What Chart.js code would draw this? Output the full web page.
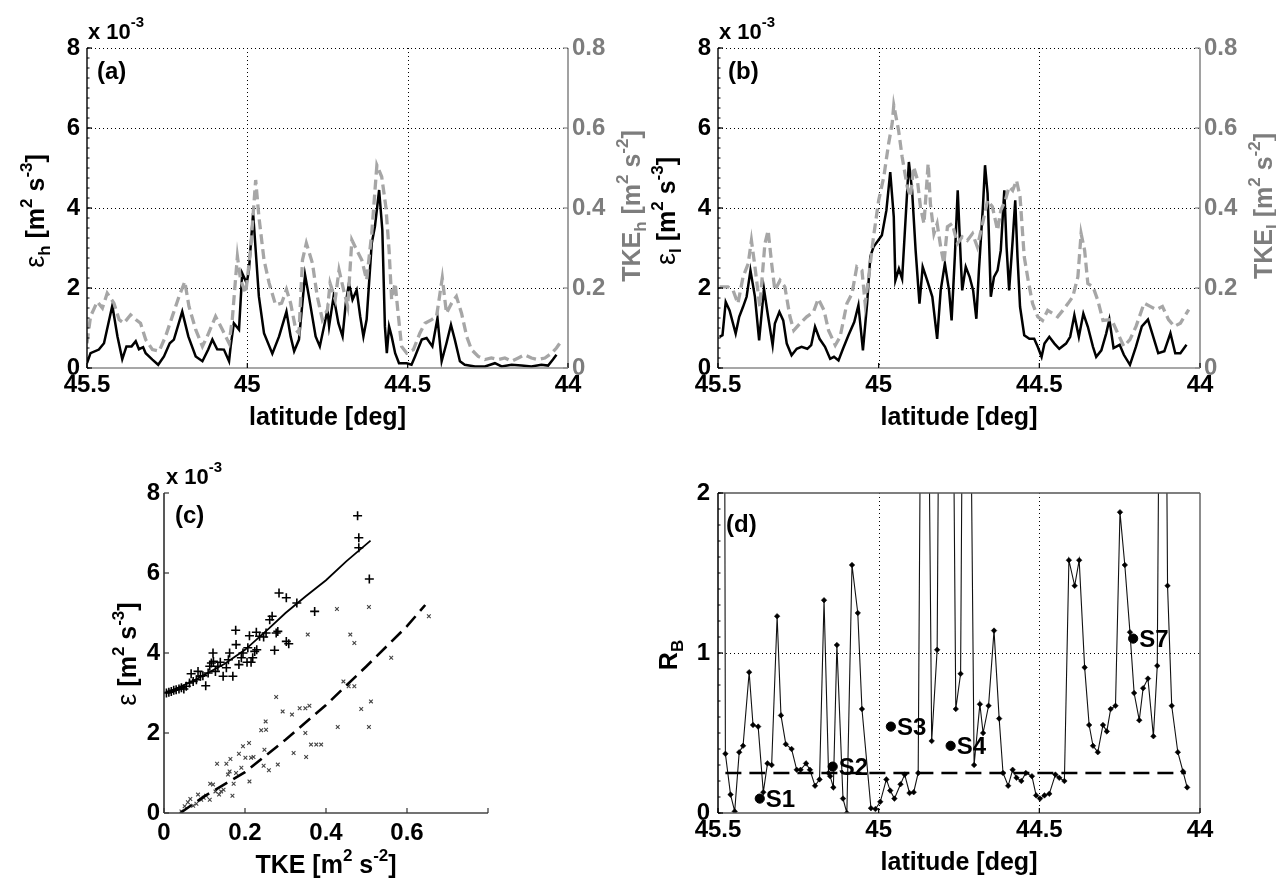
<!DOCTYPE html>
<html>
<head>
<meta charset="utf-8">
<title>Dissipation and TKE along the transect</title>
<script src="https://cdn.jsdelivr.net/npm/chart.js@4.4.1/dist/chart.umd.min.js"></script>
<style>
  html, body { margin: 0; padding: 0; background: #fff; }
  #wrap { position: relative; width: 1276px; height: 882px; overflow: hidden; background: #fff; }
  #wrap canvas { position: absolute; left: 0; top: 0; }
</style>
</head>
<body>
<div id="wrap">
  <canvas id="cA" width="1276" height="882"></canvas>
  <canvas id="cB" width="1276" height="882"></canvas>
  <canvas id="cC" width="1276" height="882"></canvas>
  <canvas id="cD" width="1276" height="882"></canvas>
</div>
<script>
// ---------------- data ----------------
// (a) horizontal dissipation eps_h (units of 1e-3 m^2 s^-3) and TKE_h (m^2 s^-2)
const latEpsH = [
  45.500,45.489,45.463,45.447,45.421,45.405,45.390,45.377,45.361,45.348,
  45.338,45.325,45.317,45.296,45.278,45.260,45.242,45.229,45.203,45.184,
  45.161,45.140,45.122,45.109,45.094,45.073,45.057,45.052,45.042,45.026,
  45.016,45.002,44.995,44.982,44.974,44.964,44.948,44.922,44.901,44.878,
  44.865,44.854,44.839,44.820,44.808,44.787,44.774,44.750,44.745,44.731,
  44.716,44.703,44.693,44.683,44.672,44.659,44.648,44.638,44.628,44.612,
  44.602,44.589,44.579,44.571,44.565,44.558,44.550,44.539,44.527,44.503,
  44.488,44.477,44.456,44.441,44.423,44.407,44.394,44.379,44.365,44.353,
  44.337,44.322,44.290,44.259,44.228,44.207,44.176,44.145,44.114,44.083,
  44.062,44.047,44.036
];
const epsH = [
  0.12,0.37,0.46,0.62,1.56,0.79,0.22,0.54,0.54,0.67,
  0.47,0.52,0.37,0.21,0.08,0.29,0.62,0.71,1.41,0.79,
  0.29,0.17,0.46,0.71,0.47,0.46,0.17,0.54,1.12,0.96,
  2.37,2.12,2.45,3.87,2.95,1.79,0.87,0.36,0.79,1.41,
  0.79,0.42,0.71,2.33,1.79,0.79,0.54,1.45,1.04,1.79,
  1.12,0.79,1.62,2.12,1.71,1.95,1.29,0.79,1.21,3.12,
  3.54,4.45,3.45,1.04,0.37,1.04,0.79,0.37,0.12,0.12,
  0.08,0.29,0.71,0.75,0.54,1.25,0.17,0.62,1.08,0.71,
  0.17,0.08,0.04,0.04,0.12,0.04,0.08,0.06,0.04,0.08,
  0.06,0.21,0.33
];
const latTkeH = [
  45.500,45.489,45.468,45.452,45.437,45.416,45.400,45.385,45.364,45.348,
  45.333,45.317,45.296,45.275,45.255,45.234,45.213,45.195,45.182,45.161,
  45.140,45.125,45.099,45.078,45.057,45.047,45.031,45.021,45.005,44.990,
  44.974,44.964,44.948,44.932,44.912,44.893,44.878,44.865,44.849,44.839,
  44.828,44.816,44.797,44.782,44.766,44.750,44.742,44.726,44.714,44.700,
  44.687,44.674,44.659,44.643,44.628,44.612,44.596,44.581,44.568,44.558,
  44.550,44.539,44.531,44.519,44.503,44.482,44.462,44.446,44.425,44.410,
  44.392,44.379,44.363,44.348,44.332,44.316,44.301,44.280,44.259,44.239,
  44.218,44.197,44.176,44.155,44.135,44.114,44.093,44.072,44.051,44.036,
  44.021
];
const tkeH = [
  0.062,0.129,0.166,0.150,0.187,0.162,0.121,0.112,0.133,0.121,
  0.112,0.071,0.046,0.042,0.079,0.129,0.179,0.216,0.154,0.096,
  0.054,0.079,0.129,0.096,0.062,0.121,0.279,0.220,0.187,0.295,
  0.470,0.379,0.270,0.212,0.158,0.162,0.196,0.162,0.096,0.087,
  0.270,0.312,0.262,0.179,0.121,0.146,0.212,0.171,0.245,0.196,
  0.154,0.320,0.295,0.270,0.220,0.337,0.507,0.478,0.403,0.295,
  0.171,0.212,0.146,0.054,0.037,0.046,0.087,0.112,0.121,0.129,
  0.225,0.137,0.162,0.179,0.137,0.079,0.046,0.029,0.021,0.025,
  0.021,0.025,0.017,0.025,0.033,0.025,0.021,0.025,0.037,0.050,
  0.067
];

// (b) eps_l (units of 1e-3 m^2 s^-3) and TKE_l (m^2 s^-2)
const latEpsL = [
  45.495,45.486,45.476,45.464,45.445,45.434,45.422,45.411,45.399,45.385,
  45.372,45.357,45.344,45.330,45.323,45.309,45.297,45.286,45.271,45.255,
  45.240,45.222,45.210,45.198,45.184,45.167,45.151,45.139,45.125,45.111,
  45.094,45.076,45.063,45.049,45.036,45.026,45.016,45.005,44.990,44.976,
  44.964,44.953,44.948,44.937,44.927,44.906,44.896,44.885,44.873,44.863,
  44.849,44.833,44.818,44.807,44.794,44.781,44.773,44.763,44.754,44.745,
  44.740,44.729,44.717,44.706,44.696,44.688,44.675,44.669,44.661,44.651,
  44.641,44.630,44.620,44.609,44.602,44.594,44.583,44.575,44.568,44.560,
  44.547,44.531,44.516,44.505,44.493,44.484,44.469,44.453,44.438,44.417,
  44.404,44.391,44.377,44.363,44.349,44.333,44.323,44.307,44.292,44.282,
  44.269,44.250,44.237,44.218,44.199,44.181,44.162,44.149,44.130,44.111,
  44.092,44.077,44.061,44.042
];
const epsL = [
  0.78,0.82,1.65,1.44,0.86,1.28,1.53,1.78,2.44,1.78,
  0.69,1.98,1.28,0.57,1.11,1.40,1.19,0.61,0.32,0.48,
  0.53,0.48,0.57,1.03,0.73,0.53,0.23,0.28,0.19,0.48,
  0.82,1.15,1.57,0.44,1.61,2.78,3.03,3.15,3.32,3.94,
  4.90,3.78,2.19,2.48,2.23,5.15,4.44,2.94,1.61,2.53,
  2.19,1.78,0.73,1.94,2.61,1.94,1.19,2.78,4.44,2.78,
  1.94,2.53,2.28,1.94,1.23,2.44,4.11,5.07,4.36,1.78,
  2.28,2.44,2.94,4.44,3.03,1.94,3.19,4.19,2.78,1.53,
  0.82,0.73,0.73,0.53,0.28,0.61,0.78,0.61,0.48,0.61,
  0.78,1.32,0.78,1.36,1.03,0.53,0.28,0.44,0.86,1.21,
  0.50,0.58,0.33,0.08,0.54,1.04,1.21,0.87,0.37,0.42,
  0.87,0.37,0.37,0.58
];
const latTkeL = [
  45.495,45.469,45.453,45.438,45.422,45.406,45.396,45.385,45.370,45.354,
  45.344,45.333,45.323,45.307,45.292,45.276,45.264,45.245,45.224,45.203,
  45.188,45.170,45.156,45.135,45.120,45.099,45.083,45.068,45.052,45.042,
  45.031,45.016,45.000,44.984,44.969,44.958,44.953,44.938,44.927,44.911,
  44.901,44.891,44.880,44.870,44.859,44.846,44.839,44.828,44.818,44.807,
  44.797,44.786,44.771,44.755,44.740,44.724,44.708,44.693,44.679,44.661,
  44.646,44.630,44.620,44.606,44.594,44.583,44.571,44.560,44.547,44.533,
  44.521,44.505,44.490,44.474,44.458,44.443,44.427,44.411,44.396,44.380,
  44.370,44.359,44.349,44.333,44.318,44.302,44.275,44.256,44.237,44.218,
  44.199,44.174,44.155,44.136,44.117,44.098,44.080,44.061,44.035
];
const tkeL = [
  0.203,0.203,0.194,0.161,0.228,0.261,0.319,0.253,0.153,0.311,
  0.344,0.261,0.194,0.219,0.203,0.128,0.094,0.111,0.128,0.140,
  0.173,0.144,0.094,0.057,0.078,0.161,0.186,0.253,0.244,0.161,
  0.228,0.328,0.419,0.478,0.561,0.611,0.657,0.594,0.528,0.453,
  0.428,0.503,0.473,0.403,0.361,0.511,0.411,0.336,0.361,0.303,
  0.261,0.353,0.361,0.311,0.328,0.319,0.336,0.303,0.353,0.419,
  0.403,0.344,0.394,0.419,0.453,0.444,0.469,0.428,0.278,0.211,
  0.161,0.128,0.119,0.144,0.136,0.128,0.144,0.161,0.178,0.228,
  0.336,0.294,0.211,0.203,0.169,0.119,0.121,0.087,0.054,0.071,
  0.104,0.162,0.154,0.146,0.154,0.121,0.104,0.112,0.146
];

// (c) dissipation versus TKE (eps in units of 1e-3 m^2 s^-3)
const tkePlus = [
  0.006,0.012,0.018,0.024,0.030,0.037,0.043,0.049,0.055,0.063,
  0.067,0.072,0.080,0.084,0.090,0.096,0.103,0.109,0.113,0.117,
  0.121,0.122,0.127,0.133,0.139,0.146,0.154,0.159,0.162,0.170,
  0.177,0.178,0.185,0.191,0.195,0.205,0.207,0.211,0.215,0.219,
  0.224,0.228,0.229,0.236,0.246,0.252,0.261,0.267,0.273,0.277,
  0.281,0.284,0.302,0.302,0.308,0.328,0.372,0.478,0.481,0.481,
  0.507
];
const epsPlus = [
  3.00,3.02,3.04,3.07,3.08,3.10,3.13,3.10,3.17,3.25,
  3.48,3.29,3.33,3.54,3.42,3.43,3.18,3.50,3.67,3.75,
  4.00,3.79,3.54,3.67,3.77,3.42,3.63,3.83,4.00,3.42,
  4.57,4.21,3.71,3.88,4.00,3.77,4.13,4.43,3.77,3.88,
  4.04,4.52,4.08,4.42,4.40,4.50,4.83,4.92,4.07,4.50,
  4.54,5.50,5.38,4.29,4.23,5.25,5.04,7.43,6.88,6.63,
  5.85
];
const tkeCross = [
  0.043,0.051,0.059,0.065,0.072,0.080,0.084,0.092,0.098,0.104,
  0.113,0.114,0.121,0.127,0.131,0.136,0.141,0.147,0.154,0.158,
  0.162,0.164,0.169,0.172,0.178,0.185,0.191,0.195,0.201,0.210,
  0.211,0.215,0.221,0.240,0.246,0.251,0.252,0.248,0.259,0.277,
  0.281,0.293,0.316,0.320,0.335,0.349,0.359,0.349,0.351,0.355,
  0.363,0.376,0.388,0.427,0.429,0.443,0.456,0.470,0.460,0.470,
  0.487,0.506,0.506,0.511,0.561,0.654
];
const epsCross = [
  0.04,0.17,0.27,0.35,0.18,0.23,0.46,0.33,0.38,0.43,
  0.33,0.73,0.71,0.54,1.23,0.46,0.54,0.58,1.23,0.96,
  1.04,1.35,0.43,0.73,1.00,1.48,1.13,1.67,1.38,1.75,
  0.79,1.38,1.40,2.07,1.18,2.29,2.08,1.58,1.07,2.90,
  1.21,2.54,2.46,1.50,2.62,2.62,2.68,2.00,1.40,4.46,
  1.71,1.71,1.71,5.10,2.15,3.29,3.17,3.17,4.46,4.25,
  2.60,5.15,2.15,2.79,3.88,4.92
];
const fitSolidTke = [0.005,0.07,0.15,0.20,0.26,0.30,0.35,0.40,0.45,0.51];
const fitSolidEps = [3.00,3.29,3.73,4.08,4.62,5.00,5.42,5.82,6.29,6.81];
const fitDashTke  = [0.040,0.10,0.20,0.30,0.40,0.50,0.60,0.645];
const fitDashEps  = [0.00,0.42,1.02,1.83,2.70,3.67,4.67,5.20];

// (d) bulk Richardson number R_B along the transect
const latRB = [
  45.483,45.477,45.461,45.448,45.434,45.422,45.403,45.391,45.375,45.359,
  45.346,45.333,45.316,45.304,45.289,45.271,45.255,45.243,45.226,45.214,
  45.198,45.184,45.170,45.156,45.151,45.141,45.130,45.111,45.099,45.083,
  45.065,45.052,45.024,45.010,44.995,44.976,44.964,44.951,44.932,44.919,
  44.904,44.891,44.877,44.859,44.835,44.818,44.802,44.781,44.760,44.745,
  44.729,44.703,44.685,44.675,44.658,44.641,44.625,44.613,44.597,44.583,
  44.571,44.556,44.542,44.523,44.510,44.498,44.484,44.469,44.450,44.438,
  44.422,44.408,44.390,44.376,44.359,44.345,44.333,44.318,44.302,44.290,
  44.278,44.263,44.249,44.234,44.218,44.205,44.189,44.177,44.162,44.145,
  44.133,44.116,44.101,44.088,44.069,44.053,44.040
];
const rB = [
  6.00,0.37,0.115,0.01,0.38,0.42,0.88,0.55,0.54,0.13,
  0.31,0.30,1.23,0.61,0.43,0.40,0.27,0.27,0.31,0.27,
  0.17,0.21,1.33,0.25,0.23,0.16,1.05,0.09,0.00,1.55,
  1.25,0.65,0.03,0.025,0.07,0.21,0.14,0.09,0.18,0.24,
  0.125,0.13,0.25,6.00,0.45,1.02,6.00,6.00,0.65,0.87,
  6.00,0.30,0.68,0.50,0.67,1.14,0.59,0.25,0.17,0.27,
  0.22,0.20,0.25,0.23,0.11,0.09,0.11,0.12,0.24,0.22,
  0.20,1.58,1.42,1.58,0.91,0.55,0.42,0.38,0.55,0.51,
  0.65,0.67,1.88,1.55,1.13,0.75,0.58,0.78,0.84,0.48,
  0.92,6.00,1.42,0.67,0.38,0.26,0.16
];
const refLat = [45.477, 44.044];
const refRB  = [0.25, 0.25];
const stationNames = ['S1', 'S2', 'S3', 'S4', 'S7'];
const stationLat   = [45.370, 45.143, 44.962, 44.776, 44.208];
const stationRB    = [0.09, 0.29, 0.54, 0.42, 1.09];

// ---------------- drawing helpers ----------------
const FONT = '"Liberation Sans", Arial, sans-serif';
const W = 1276, H = 882;
const GRAY_TEXT = '#7d7d7d';
const GRAY_LINE = '#a6a6a6';

Chart.defaults.font.family = FONT;
Chart.defaults.font.size = 24;
Chart.defaults.font.weight = 'bold';
Chart.defaults.color = '#000';

const pts = (xs, ys) => xs.map((x, i) => ({ x: x, y: ys[i] }));

function pad(box, yl, yr, xh) {
  return { left: box.l - yl, right: W - box.r - yr, top: box.t, bottom: H - box.b - xh };
}

function seg(ctx, x1, y1, x2, y2, color, width, dash) {
  ctx.save();
  ctx.strokeStyle = color;
  ctx.lineWidth = width;
  ctx.setLineDash(dash || []);
  ctx.beginPath();
  ctx.moveTo(x1, y1);
  ctx.lineTo(x2, y2);
  ctx.stroke();
  ctx.restore();
}

// text made of runs with their own size / baseline shift (sub- and superscripts)
function richText(ctx, parts, x, y, o) {
  o = o || {};
  ctx.save();
  ctx.translate(x, y);
  if (o.rotate) ctx.rotate(-Math.PI / 2);
  ctx.fillStyle = o.color || '#000';
  ctx.textBaseline = 'alphabetic';
  ctx.textAlign = 'left';
  const fonts = parts.map(p => (p[3] || 'bold') + ' ' + p[1] + 'px ' + FONT);
  const widths = parts.map((p, i) => { ctx.font = fonts[i]; return ctx.measureText(p[0]).width; });
  const total = widths.reduce((s, w) => s + w, 0);
  let cx = o.align === 'left' ? 0 : -total / 2;
  parts.forEach((p, i) => { ctx.font = fonts[i]; ctx.fillText(p[0], cx, p[2] || 0); cx += widths[i]; });
  ctx.restore();
}

const EXP3 = [['x 10', 22, 0], ['-3', 15, -12]];
const LAB_LAT = [['latitude [deg]', 25, 0]];
const labEps = sub => [['ε', 27, 0, 'normal'], [sub, 17, 6], [' [m', 25, 0], ['2', 17, -12], [' s', 25, 0], ['-3', 17, -12], [']', 25, 0]];
const labTke = sub => [['TKE', 25, 0], [sub, 17, 6], [' [m', 25, 0], ['2', 17, -12], [' s', 25, 0], ['-2', 17, -12], [']', 25, 0]];
const LAB_EPS_C = [['ε', 27, 0, 'normal'], [' [m', 25, 0], ['2', 17, -12], [' s', 25, 0], ['-3', 17, -12], [']', 25, 0]];
const LAB_TKE_C = [['TKE [m', 25, 0], ['2', 17, -12], [' s', 25, 0], ['-2', 17, -12], [']', 25, 0]];
const LAB_RB = [['R', 25, 0], ['B', 17, 6]];

function tag(ctx, text, x, y) {
  ctx.save();
  ctx.font = 'bold 24px ' + FONT;
  ctx.fillStyle = '#000';
  ctx.textBaseline = 'alphabetic';
  ctx.textAlign = 'left';
  ctx.fillText(text, x, y);
  ctx.restore();
}

function dottedGrid(chart, xs, ys) {
  const { ctx, chartArea: a } = chart;
  const sx = chart.scales[xs], sy = chart.scales[ys];
  sx.ticks.forEach(t => {
    const x = Math.round(sx.getPixelForValue(t.value)) + 0.5;
    if (x > a.left + 2 && x < a.right - 2) seg(ctx, x, a.top, x, a.bottom, '#000', 1, [1, 3]);
  });
  sy.ticks.forEach(t => {
    const y = Math.round(sy.getPixelForValue(t.value)) + 0.5;
    if (y > a.top + 2 && y < a.bottom - 2) seg(ctx, a.left, y, a.right, y, '#000', 1, [1, 3]);
  });
}

function inwardTicks(chart, id, side, color, len) {
  const { ctx, chartArea: a } = chart;
  const s = chart.scales[id];
  s.ticks.forEach(t => {
    const p = s.getPixelForValue(t.value);
    if (side === 'left') seg(ctx, a.left, p, a.left + len, p, color, 1.2);
    if (side === 'right') seg(ctx, a.right, p, a.right - len, p, color, 1.2);
    if (side === 'bottom') seg(ctx, p, a.bottom, p, a.bottom - len, color, 1.2);
    if (side === 'top') seg(ctx, p, a.top, p, a.top + len, color, 1.2);
  });
}

function minorTicks(chart, id, step, len) {
  const { ctx, chartArea: a } = chart;
  const s = chart.scales[id];
  for (let v = s.min; v <= s.max + 1e-9; v += step) {
    const p = s.getPixelForValue(v);
    seg(ctx, a.left, p, a.left + len, p, '#000', 1);
  }
}

// ---------------- axes ----------------
function latAxis(xh) {
  return {
    type: 'linear', position: 'bottom', reverse: true, min: 44, max: 45.5,
    afterFit: s => { s.height = xh; },
    grid: { display: false, drawTicks: false }, border: { display: false },
    ticks: { stepSize: 0.5, autoSkip: false, maxRotation: 0, padding: 3, color: '#000',
             callback: v => String(v) }
  };
}
function epsAxis() {
  return {
    type: 'linear', position: 'left', min: 0, max: 8,
    afterFit: s => { s.width = 40; },
    grid: { display: false, drawTicks: false }, border: { display: false },
    ticks: { stepSize: 2, padding: 7, color: '#000', callback: v => String(v) }
  };
}
function tkeAxis() {
  return {
    type: 'linear', position: 'right', min: 0, max: 0.8,
    afterFit: s => { s.width = 45; },
    grid: { display: false, drawTicks: false }, border: { display: false },
    ticks: { stepSize: 0.2, padding: 4, color: GRAY_TEXT,
             callback: v => (v === 0 ? '0' : v.toFixed(1)) }
  };
}

const boxA = { l: 87, t: 48, r: 568, b: 368 };
const boxB = { l: 718, t: 48, r: 1200, b: 368 };
const boxC = { l: 164, t: 493, r: 488, b: 813 };
const boxD = { l: 718, t: 493, r: 1200, b: 813 };

const baseOpts = { responsive: false, animation: false, events: [],
                   plugins: { legend: { display: false }, tooltip: { enabled: false } } };

// panels (a) and (b): dissipation (left, black) and TKE (right, grey)
function epsTkePanel(id, box, latE, eps, latT, tke, letter, sub) {
  const deco = {
    id: 'deco' + letter,
    beforeDatasetsDraw(chart) { dottedGrid(chart, 'x', 'y'); },
    afterDraw(chart) {
      const { ctx, chartArea: a } = chart;
      seg(ctx, a.left, a.bottom, a.right, a.bottom, '#8a8a8a', 1.6);
      seg(ctx, a.right, a.top, a.right, a.bottom, '#8a8a8a', 1.6);
      seg(ctx, a.left, a.top, a.left, a.bottom, '#000', 1.4);
      seg(ctx, a.left, a.top + 0.5, a.right, a.top + 0.5, '#000', 1, [1, 3]);
      inwardTicks(chart, 'y', 'left', '#000', 5);
      inwardTicks(chart, 'x', 'bottom', '#000', 5);
      inwardTicks(chart, 'y1', 'right', '#8a8a8a', 5);
      minorTicks(chart, 'y', 0.25, 2.5);
      const cy = (a.top + a.bottom) / 2;
      richText(ctx, EXP3, a.left + 1, a.top - 9.5, { align: 'left' });
      tag(ctx, '(' + letter + ')', a.left + 10, a.top + 31);
      richText(ctx, labEps(sub), a.left - 43, cy + 3, { rotate: true });
      richText(ctx, labTke(sub), a.right + 72, cy - 2, { rotate: true, color: GRAY_TEXT });
      richText(ctx, LAB_LAT, (a.left + a.right) / 2, a.bottom + 57);
    }
  };
  return new Chart(document.getElementById(id), {
    type: 'line',
    data: { datasets: [
      { label: 'TKE_' + sub, data: pts(latT, tke), yAxisID: 'y1', borderColor: GRAY_LINE,
        borderWidth: 3.3, borderDash: [10, 5], pointRadius: 0, tension: 0, order: 0 },
      { label: 'eps_' + sub, data: pts(latE, eps), yAxisID: 'y', borderColor: '#000',
        borderWidth: 2.5, pointRadius: 0, tension: 0, order: 1 }
    ] },
    options: Object.assign({}, baseOpts, {
      layout: { padding: pad(box, 40, 45, 60), autoPadding: false },
      scales: { x: latAxis(60), y: epsAxis(), y1: tkeAxis() }
    }),
    plugins: [deco]
  });
}

epsTkePanel('cA', boxA, latEpsH, epsH, latTkeH, tkeH, 'a', 'h');
epsTkePanel('cB', boxB, latEpsL, epsL, latTkeL, tkeL, 'b', 'l');

// panel (c): eps against TKE with fitted curves
new Chart(document.getElementById('cC'), {
  type: 'scatter',
  data: { datasets: [
    { label: 'fit +', data: pts(fitSolidTke, fitSolidEps), showLine: true, borderColor: '#000',
      borderWidth: 1.8, pointRadius: 0, order: 0 },
    { label: 'fit x', data: pts(fitDashTke, fitDashEps), showLine: true, borderColor: '#000',
      borderWidth: 2.6, borderDash: [14, 7], pointRadius: 0, order: 1 },
    { label: '+', data: pts(tkePlus, epsPlus), pointStyle: 'cross', pointRadius: 4.5,
      borderColor: '#000', borderWidth: 1.6, order: 2 },
    { label: 'x', data: pts(tkeCross, epsCross), pointStyle: 'crossRot', pointRadius: 2.6,
      borderColor: '#444', borderWidth: 1.1, order: 3 }
  ] },
  options: Object.assign({}, baseOpts, {
    layout: { padding: pad(boxC, 40, 0, 60), autoPadding: false },
    scales: {
      x: { type: 'linear', position: 'bottom', min: 0, max: 0.8,
           afterFit: s => { s.height = 60; },
           grid: { display: false, drawTicks: false }, border: { display: false },
           ticks: { stepSize: 0.2, autoSkip: false, maxRotation: 0, padding: 6, color: '#000',
                    callback: v => (v === 0 ? '0' : (v > 0.79 ? '' : v.toFixed(1))) } },
      y: Object.assign(epsAxis(), { ticks: { stepSize: 2, padding: 4, color: '#000', callback: v => String(v) } })
    }
  }),
  plugins: [{
    id: 'decoC',
    afterDraw(chart) {
      const { ctx, chartArea: a } = chart;
      seg(ctx, a.left, a.bottom, a.right, a.bottom, '#444', 1.5);
      seg(ctx, a.left, a.top, a.left, a.bottom, '#222', 1.5);
      inwardTicks(chart, 'y', 'left', '#333', 5);
      inwardTicks(chart, 'x', 'bottom', '#333', 5);
      richText(ctx, EXP3, a.left + 2, a.top - 9.5, { align: 'left' });
      tag(ctx, '(c)', a.left + 11, a.top + 30);
      richText(ctx, LAB_EPS_C, a.left - 28.5, (a.top + a.bottom) / 2 + 1, { rotate: true });
      richText(ctx, LAB_TKE_C, (a.left + a.right) / 2, a.bottom + 60);
    }
  }]
});

// panel (d): bulk Richardson number with threshold and stations
new Chart(document.getElementById('cD'), {
  type: 'line',
  data: { datasets: [
    { label: 'stations', data: pts(stationLat, stationRB), showLine: false, pointStyle: 'circle',
      pointRadius: 4.6, pointBackgroundColor: '#000', pointBorderColor: '#000', order: 0 },
    { label: 'threshold', data: pts(refLat, refRB), borderColor: '#000', borderWidth: 2.6,
      borderDash: [16, 8], pointRadius: 0, order: 1 },
    { label: 'R_B', data: pts(latRB, rB), borderColor: '#111', borderWidth: 1.1, tension: 0,
      pointStyle: 'rectRot', pointRadius: 2.8, pointBackgroundColor: '#000',
      pointBorderColor: '#000', pointBorderWidth: 0.5, order: 2 }
  ] },
  options: Object.assign({}, baseOpts, {
    layout: { padding: pad(boxD, 40, 0, 60), autoPadding: false },
    scales: {
      x: latAxis(60),
      y: { type: 'linear', position: 'left', min: 0, max: 2,
           afterFit: s => { s.width = 40; },
           grid: { display: false, drawTicks: false }, border: { display: false },
           ticks: { stepSize: 1, padding: 8, color: '#000', callback: v => String(v) } }
    }
  }),
  plugins: [{
    id: 'decoD',
    beforeDatasetsDraw(chart) { dottedGrid(chart, 'x', 'y'); },
    afterDraw(chart) {
      const { ctx, chartArea: a } = chart;
      seg(ctx, a.left, a.top, a.right, a.top, '#555', 1.5);
      seg(ctx, a.right, a.top, a.right, a.bottom, '#666', 1.5);
      seg(ctx, a.left, a.bottom, a.right, a.bottom, '#555', 1.5);
      seg(ctx, a.left, a.top, a.left, a.bottom, '#000', 1.5);
      inwardTicks(chart, 'y', 'left', '#000', 5);
      inwardTicks(chart, 'x', 'bottom', '#000', 5);
      minorTicks(chart, 'y', 0.1, 2.5);
      const sx = chart.scales.x, sy = chart.scales.y;
      ctx.save();
      ctx.font = 'bold 24px ' + FONT;
      ctx.fillStyle = '#000';
      ctx.textBaseline = 'middle';
      ctx.textAlign = 'left';
      stationNames.forEach((n, i) => {
        ctx.fillText(n, sx.getPixelForValue(stationLat[i]) + 6, sy.getPixelForValue(stationRB[i]) + 2);
      });
      ctx.restore();
      tag(ctx, '(d)', a.left + 8, a.top + 39);
      richText(ctx, LAB_RB, a.left - 41, (a.top + a.bottom) / 2 + 2, { rotate: true });
      richText(ctx, LAB_LAT, (a.left + a.right) / 2, a.bottom + 57);
    }
  }]
});
</script>
</body>
</html>
